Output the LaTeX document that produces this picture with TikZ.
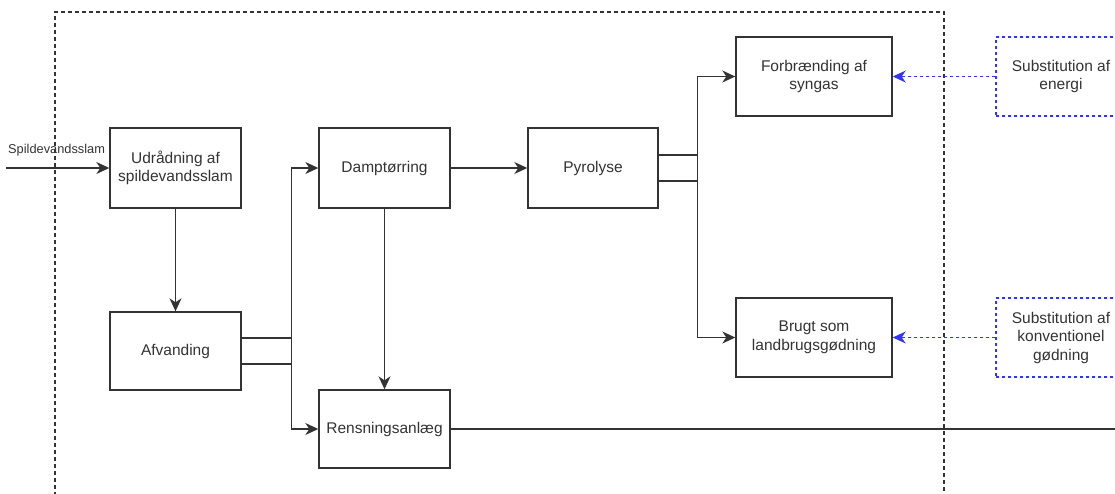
\documentclass[tikz,border=0pt]{standalone}
\usepackage{fontspec}
\setmainfont{Liberation Sans}
\usetikzlibrary{arrows.meta}
\definecolor{ink}{HTML}{333333}
\definecolor{subblue}{HTML}{3333FF}
\begin{document}
\begin{tikzpicture}[x=1pt,y=-1pt,
  box/.style={draw=ink, line width=1.4pt, minimum width=131pt, minimum height=80pt,
    align=center, inner sep=0pt, text=ink, font=\fontsize{15.5}{18.5}\selectfont},
  widebox/.style={box, minimum width=156pt},
  subbox/.style={draw=subblue, line width=1.2pt, dash pattern=on 3pt off 3pt,
    minimum width=130pt, minimum height=79pt, align=center, inner sep=0pt,
    text=ink, font=\fontsize{15.5}{18.5}\selectfont},
  flow/.style={draw=ink, line width=1.5pt, -{Stealth[length=13pt,width=12pt,inset=4pt]}},
  plainflow/.style={draw=ink, line width=1.5pt},
  subflow/.style={draw=subblue, line width=1.2pt, dash pattern=on 3pt off 3pt,
    -{Stealth[length=13pt,width=12pt,inset=4pt]}},
  frame/.style={draw=ink, line width=1.3pt, dash pattern=on 4pt off 3pt},
  lbl/.style={text=ink, font=\fontsize{12.8}{15}\selectfont, inner sep=0pt}
]
\useasboundingbox (0,0) rectangle (1115,493);
\clip (0,0) rectangle (1115,493);

% system boundary
\draw[frame] (55,510) -- (55,12) -- (944,12) -- (944,510);

% nodes
\node[box] (udr) at (175.5,168) {Udrådning af\\spildevandsslam};
\node[box, minimum height=78pt] (afv) at (175.5,351) {Afvanding};
\node[box] (damp) at (384.5,168) {Damptørring};
\node[box, minimum height=78pt] (rens) at (384.5,429) {Rensningsanlæg};
\node[box, minimum width=130pt] (pyr) at (593,168) {Pyrolyse};
\node[widebox, minimum height=79pt] (forb) at (814,76.5) {Forbrænding af\\syngas};
\node[widebox, minimum height=79pt] (brugt) at (814,337.5) {Brugt som\\landbrugsgødning};
\node[subbox] (subE) at (1061,76.5) {Substitution af\\energi};
\node[subbox] (subG) at (1061,337.5) {Substitution af\\konventionel\\gødning};

% input
\coordinate (in) at (6,168);
\node[lbl, anchor=base west] (inlbl) at (8,153) {Spildevandsslam};
\draw[flow] (in) -- (udr.west);

% connectors
\draw[flow] (udr.south) -- (afv.north);
\draw[flow] ([yshift=-13pt]afv.east) -- ++(50,0) |- (damp.west);
\draw[flow] ([yshift=13pt]afv.east) -- ++(50,0) |- (rens.west);
\draw[flow] (damp.south) -- (rens.north);
\draw[flow] (damp.east) -- (pyr.west);
\draw[flow] ([yshift=-13pt]pyr.east) -- ++(39,0) |- (forb.west);
\draw[flow] ([yshift=13pt]pyr.east) -- ++(39,0) |- (brugt.west);
\coordinate (out) at (1130,429);
\draw[plainflow] (rens.east) -- (out);

\draw[subflow] (subE.west) -- (forb.east);
\draw[subflow] (subG.west) -- (brugt.east);
\end{tikzpicture}
\end{document}
